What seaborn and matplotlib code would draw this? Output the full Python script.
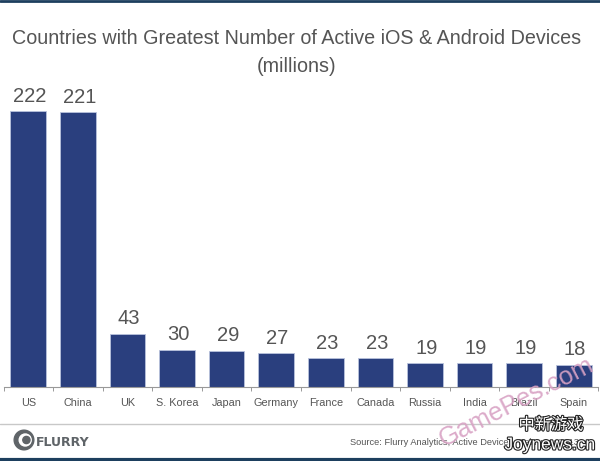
"""Countries with greatest number of active iOS and Android devices"""

import matplotlib

matplotlib.use("Agg")
from matplotlib import pyplot as plt
from matplotlib import patheffects as pe
from matplotlib.patches import Circle
import pandas as pd
import seaborn as sns

countries = ["US", "China", "UK", "S. Korea", "Japan", "Germany", "France",
             "Canada", "Russia", "India", "Brazil", "Spain"]
devices = [222, 221, 43, 30, 29, 27, 23, 23, 19, 19, 19, 18]

BAR_COLOR = "#2a3f7e"
TEXT_COLOR = "#555555"
W, H = 600, 461

sns.set_theme(style="white")
plt.rcParams["font.family"] = ["Liberation Sans", "Noto Sans CJK SC", "DejaVu Sans"]

df = pd.DataFrame({"country": countries, "devices": devices})

fig = plt.figure(figsize=(W / 100, H / 100), dpi=100, facecolor="white")
# axes box in pixels: x 3-598, baseline at y=387
ax = fig.add_axes([3.5 / W, 1 - 387 / H, 595 / W, 307 / H])
sns.barplot(
    data=df,
    x="country",
    y="devices",
    color=BAR_COLOR,
    saturation=1,
    width=0.72,
    edgecolor="#b9c3dc",
    linewidth=0.6,
    ax=ax,
)
ax.set_xlim(-0.5, 11.5)
ax.set_ylim(0, 247)
ax.set_xlabel("")
ax.set_ylabel("")
ax.set_yticks([])
sns.despine(ax=ax, left=True)
ax.spines["bottom"].set_color("#999999")
ax.spines["bottom"].set_linewidth(0.8)

# ticks sit between the categories
ax.set_xticks(range(len(countries)))
ax.set_xticklabels(countries, fontsize=7.8, color=TEXT_COLOR)
ax.tick_params(axis="x", which="major", length=0, pad=8)
ax.set_xticks([i - 0.5 for i in range(len(countries) + 1)], minor=True)
ax.tick_params(axis="x", which="minor", length=3, width=0.7, color="#999999",
               bottom=True)

for i, v in enumerate(devices):
    ax.annotate(str(v), (i, v), xytext=(1, 4), textcoords="offset points",
                ha="center", va="bottom", fontsize=14.5, color=TEXT_COLOR)


def px(x, y):
    return x / W, 1 - y / H


fig.text(*px(297, 38), "Countries with Greatest Number of Active iOS & Android Devices",
         ha="center", va="center", fontsize=14.2, color=TEXT_COLOR)
fig.text(*px(297, 66), "(millions)", ha="center", va="center", fontsize=14.2,
         color=TEXT_COLOR)

# frame bands and footer rule
fig.add_artist(plt.Line2D([0, 1], [1 - 1 / H, 1 - 1 / H], color="#1d3f5e", lw=2))
fig.add_artist(plt.Line2D([0, 1], [1 - 459.5 / H, 1 - 459.5 / H], color="#1d3f5e", lw=3))
fig.add_artist(plt.Line2D([0, 1], [1 - 423.5 / H, 1 - 423.5 / H], color="#c8c8c8", lw=1))

# logo
logo = fig.add_axes([12 / W, 1 - 452 / H, 24 / W, 24 / H])
logo.set_xlim(-1, 1)
logo.set_ylim(-1, 1)
logo.axis("off")
logo.add_patch(Circle((0, 0), 0.82, color="#5f6468"))
logo.add_patch(Circle((0.1, 0), 0.5, color="white"))
logo.add_patch(Circle((0.2, 0), 0.3, color="#5f6468"))
fig.text(*px(36, 442.5), "FLURRY", ha="left", va="center", fontsize=9,
         fontweight="bold", color="#5f6468", family="DejaVu Sans")

fig.text(*px(350, 442.5), "Source: Flurry Analytics, Active Devices, February 2013",
         ha="left", va="center", fontsize=6.7, color=TEXT_COLOR)

# watermarks
fig.text(*px(517, 402), "GamePes.com", ha="center", va="center", rotation=27,
         fontsize=18.5, color="#d8a2c4", alpha=0.9)
outline = [pe.withStroke(linewidth=1.6, foreground="#222222")]
fig.text(*px(551, 425), "中新游戏", ha="center", va="center", fontsize=11.7,
         color="white", path_effects=outline)
fig.text(*px(550, 445), "Joynews.cn", ha="center", va="center", fontsize=12.5,
         color="white", path_effects=outline)

fig.savefig("out.png", dpi=100, facecolor="white")
plt.close()
